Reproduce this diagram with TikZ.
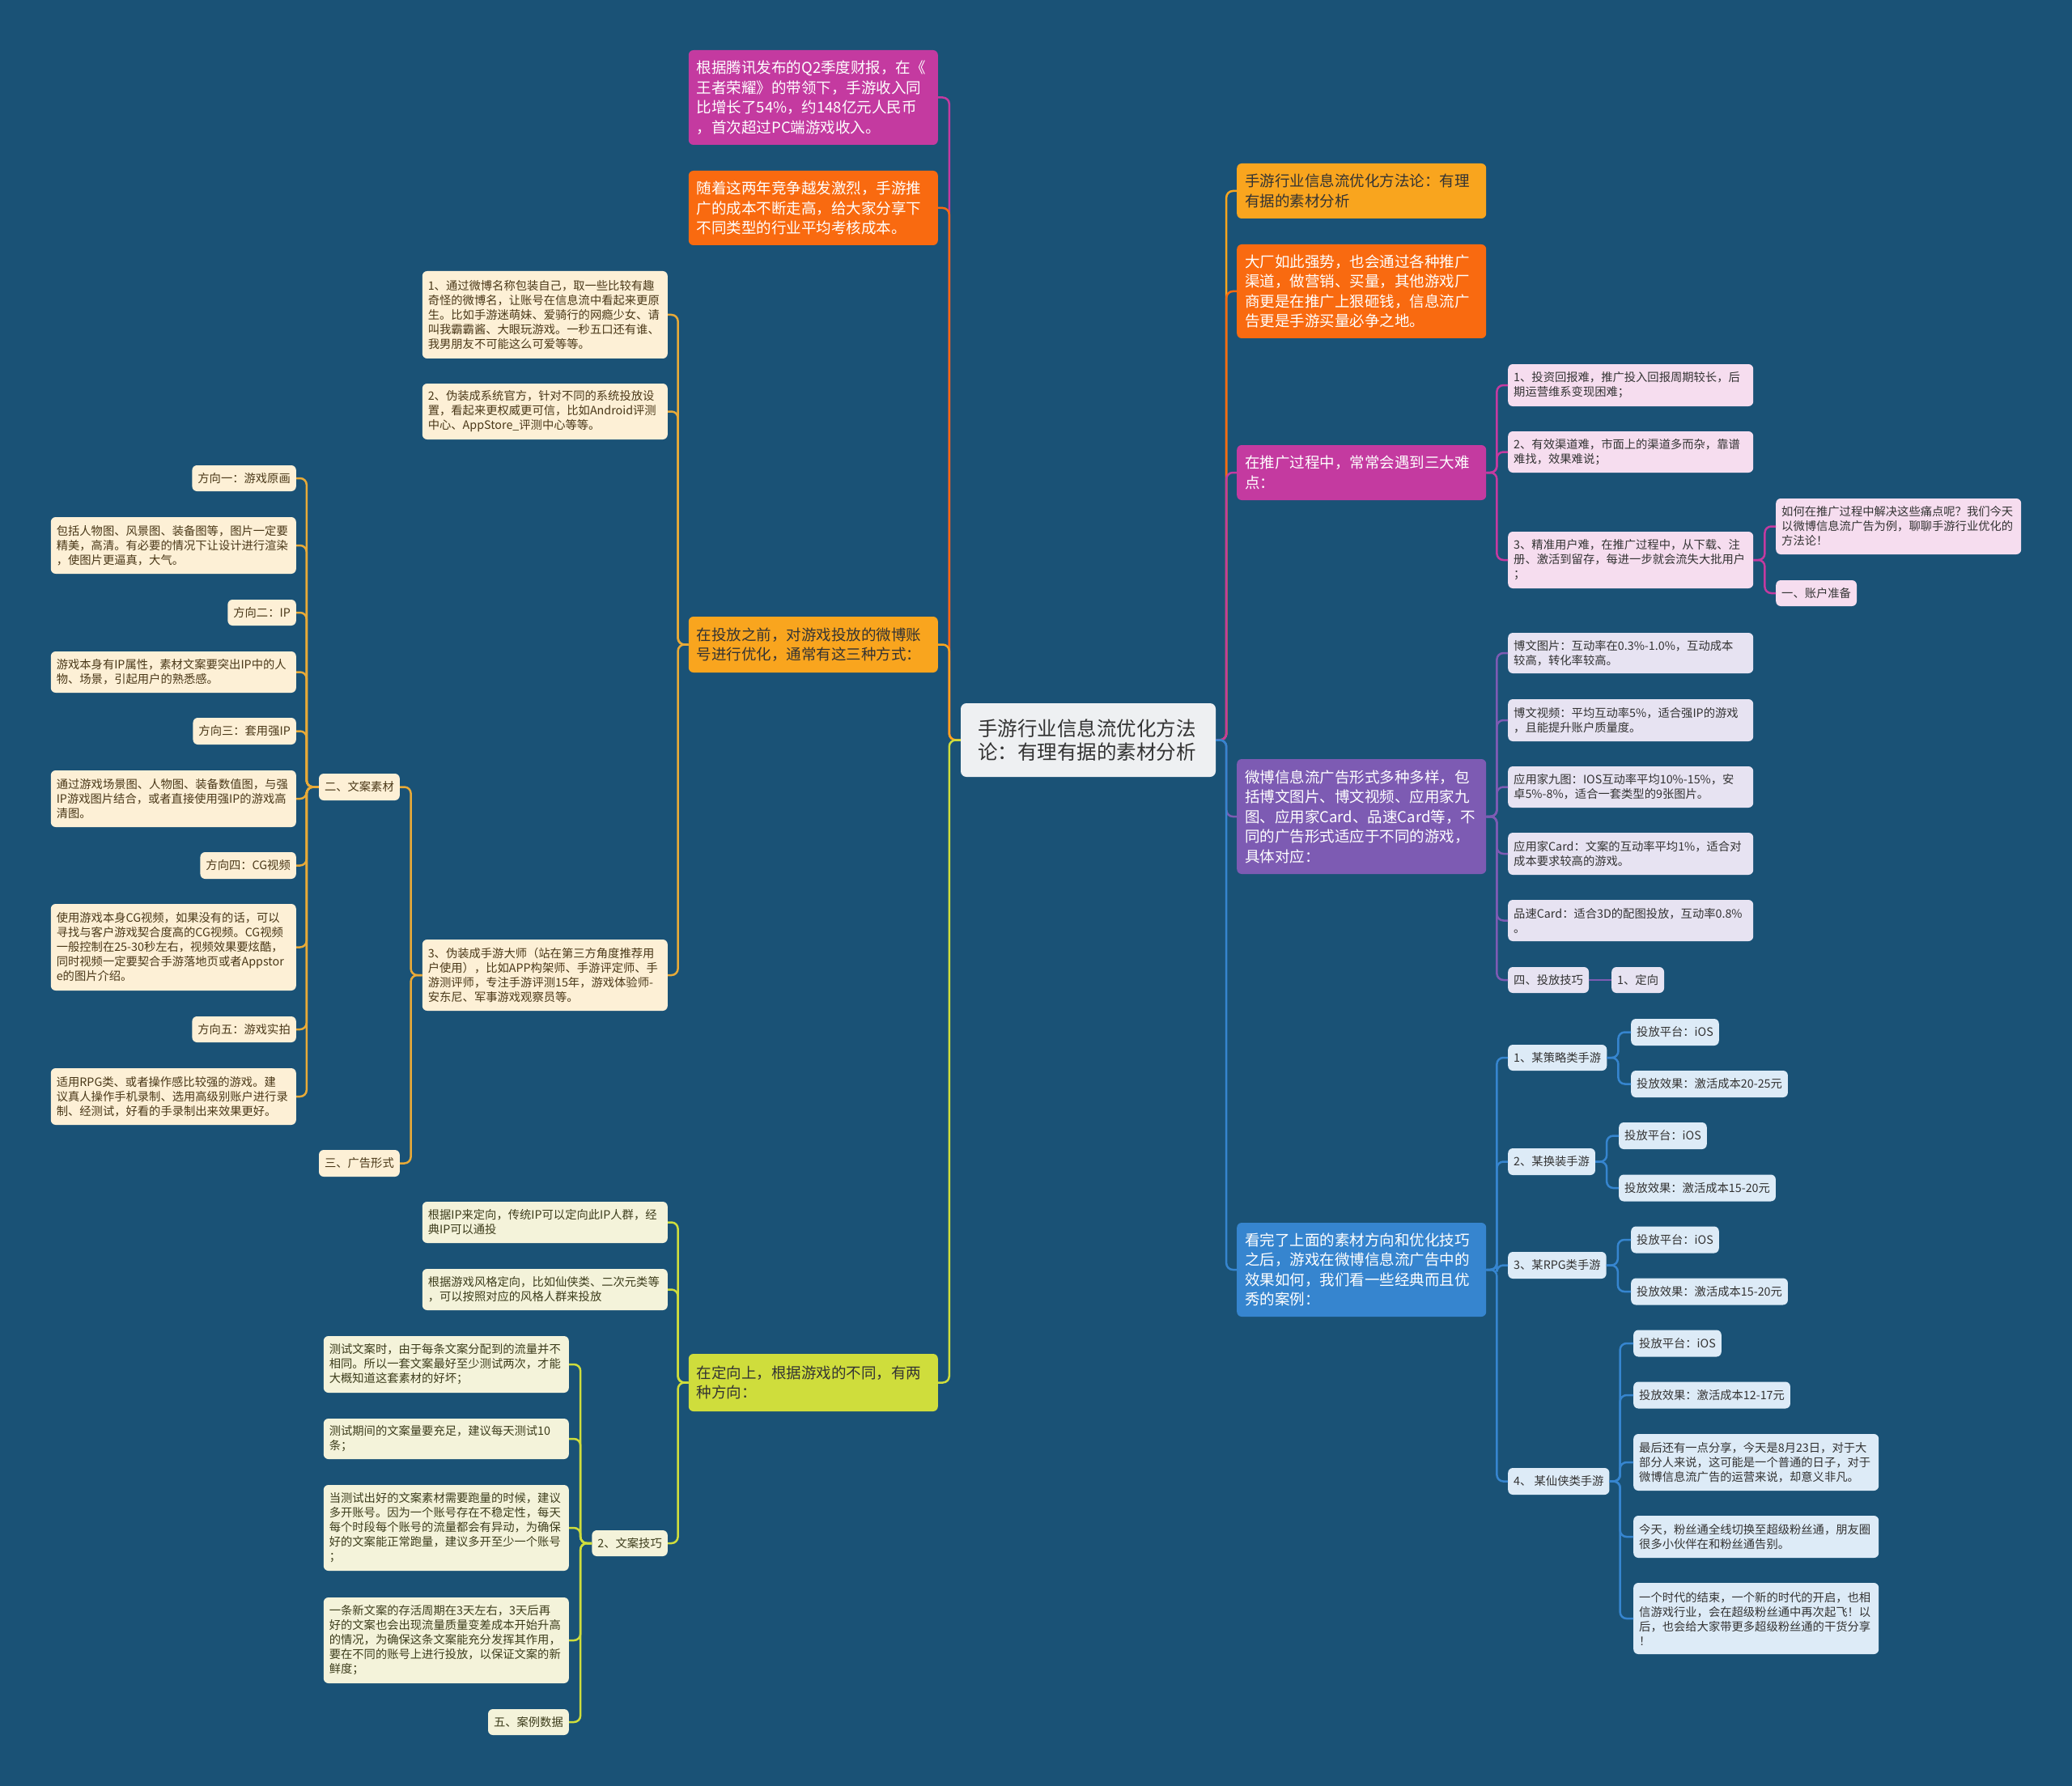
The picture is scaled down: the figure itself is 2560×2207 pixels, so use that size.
\documentclass[tikz,border=0pt]{standalone}
\usepackage{fontspec}
\setmainfont{Noto Sans CJK SC}
\usetikzlibrary{positioning}
\definecolor{MapBg}{HTML}{1A5276}
\definecolor{MapText}{HTML}{333333}
\definecolor{MapPink}{HTML}{C43AA0}
\definecolor{MapOrange}{HTML}{F96A10}
\definecolor{MapAmber}{HTML}{F9A51E}
\definecolor{MapLime}{HTML}{CFDD3C}
\definecolor{MapPurple}{HTML}{7D5BB3}
\definecolor{MapBlue}{HTML}{3685CF}
\definecolor{MapGold}{HTML}{E8AA38}
\definecolor{CreamFill}{HTML}{FDF0D6}
\definecolor{CreamText}{HTML}{4A3818}
\definecolor{PaleFill}{HTML}{F4F3DA}
\definecolor{PaleText}{HTML}{3D3D1C}
\definecolor{PinkFill}{HTML}{F6DDEF}
\definecolor{LilacFill}{HTML}{E7E3F2}
\definecolor{SkyFill}{HTML}{DDEBF7}
\definecolor{RootFill}{HTML}{EEF0F2}
\tikzset{
    % Box styles
    rootbox/.style={
        rectangle,
        rounded corners=7pt,
        fill=RootFill,
        text=MapText,
        align=left,
        inner xsep=21pt,
        text width=273pt,
        minimum height=91pt,
        font=\fontsize{24.5}{28.5}\selectfont
    },
    mainbox/.style={
        rectangle,
        rounded corners=6pt,
        align=left,
        inner xsep=10pt,
        text width=288pt,
        font=\fontsize{18.5}{24.5}\selectfont
    },
    pinkmain/.style={mainbox, fill=MapPink, text=white},
    orangemain/.style={mainbox, fill=MapOrange, text=white},
    ambermain/.style={mainbox, fill=MapAmber, text=MapText},
    limemain/.style={mainbox, fill=MapLime, text=MapText},
    purplemain/.style={mainbox, fill=MapPurple, text=white},
    bluemain/.style={mainbox, fill=MapBlue, text=white},
    leafbox/.style={
        rectangle,
        rounded corners=6pt,
        align=left,
        inner xsep=7pt,
        minimum height=33pt,
        font=\fontsize{14.3}{18}\selectfont
    },
    wide/.style={text width=289pt},
    creamleaf/.style={leafbox, fill=CreamFill, text=CreamText},
    paleleaf/.style={leafbox, fill=PaleFill, text=PaleText},
    pinkleaf/.style={leafbox, fill=PinkFill, text=MapText},
    lilacleaf/.style={leafbox, fill=LilacFill, text=MapText},
    skyleaf/.style={leafbox, fill=SkyFill, text=MapText},
    % Connector styles
    branch/.style={line width=2.5pt, rounded corners=8pt},
    pinkline/.style={branch, draw=MapPink},
    orangeline/.style={branch, draw=MapOrange},
    amberline/.style={branch, draw=MapAmber},
    goldline/.style={branch, draw=MapGold},
    limeline/.style={branch, draw=MapLime},
    purpleline/.style={branch, draw=MapPurple},
    blueline/.style={branch, draw=MapBlue}
}

\begin{document}
\begin{tikzpicture}[x=1pt, y=-1pt]
    \fill[MapBg] (0,0) rectangle (2560,2207);
    \useasboundingbox (0,0) rectangle (2560,2207);

    % Root
    \node[rootbox] (root) at (1344.5,914.5) {手游行业信息流优化方法\\论：有理有据的素材分析};

    % Left main branches
    \node[pinkmain, anchor=east, minimum height=117pt] (lpink) at (1159,120.5) {根据腾讯发布的Q2季度财报，在《\\王者荣耀》的带领下，手游收入同\\比增长了54\%，约148亿元人民币\\，首次超过PC端游戏收入。};
    \node[orangemain, anchor=east, minimum height=92pt] (lorange) at (1159,257) {随着这两年竞争越发激烈，手游推\\广的成本不断走高，给大家分享下\\不同类型的行业平均考核成本。};
    \node[ambermain, anchor=east, minimum height=69pt] (lamber) at (1159,796.5) {在投放之前，对游戏投放的微博账\\号进行优化，通常有这三种方式：};
    \node[limemain, anchor=east, minimum height=71pt] (llime) at (1159,1708.5) {在定向上，根据游戏的不同，有两\\种方向：};

    % Right main branches
    \node[ambermain, anchor=west, minimum height=68pt] (ramber) at (1528,236) {手游行业信息流优化方法论：有理\\有据的素材分析};
    \node[orangemain, anchor=west, minimum height=116pt] (rorange) at (1528,360) {大厂如此强势，也会通过各种推广\\渠道，做营销、买量，其他游戏厂\\商更是在推广上狠砸钱，信息流广\\告更是手游买量必争之地。};
    \node[pinkmain, anchor=west, minimum height=68pt] (rpink) at (1528,584) {在推广过程中，常常会遇到三大难\\点：};
    \node[purplemain, anchor=west, minimum height=142pt] (rpurple) at (1528,1009) {微博信息流广告形式多种多样，包\\括博文图片、博文视频、应用家九\\图、应用家Card、品速Card等，不\\同的广告形式适应于不同的游戏，\\具体对应：};
    \node[bluemain, anchor=west, minimum height=116pt] (rblue) at (1528,1569) {看完了上面的素材方向和优化技巧\\之后，游戏在微博信息流广告中的\\效果如何，我们看一些经典而且优\\秀的案例：};

    % Account tips (left, amber)
    \node[creamleaf, wide, anchor=east, minimum height=108pt] (acc1) at (825,389) {1、通过微博名称包装自己，取一些比较有趣\\奇怪的微博名，让账号在信息流中看起来更原\\生。比如手游迷萌妹、爱骑行的网瘾少女、请\\叫我霸霸酱、大眼玩游戏。一秒五口还有谁、\\我男朋友不可能这么可爱等等。};
    \node[creamleaf, wide, anchor=east, minimum height=69pt] (acc2) at (825,508.5) {2、伪装成系统官方，针对不同的系统投放设\\置，看起来更权威更可信，比如Android评测\\中心、AppStore\_评测中心等等。};
    \node[creamleaf, wide, anchor=east, minimum height=88pt] (acc3) at (825,1205) {3、伪装成手游大师（站在第三方角度推荐用\\户使用），比如APP构架师、手游评定师、手\\游测评师，专注手游评测15年，游戏体验师-\\安东尼、军事游戏观察员等。};
    \node[creamleaf, anchor=east] (copy) at (494,972.5) {二、文案素材};
    \node[creamleaf, anchor=east] (adform) at (494,1437.5) {三、广告形式};

    % Copy material directions
    \node[creamleaf, anchor=east, minimum height=32pt] (dir1) at (366,591) {方向一：游戏原画};
    \node[creamleaf, wide, anchor=east, minimum height=70pt] (dir1t) at (366,674) {包括人物图、风景图、装备图等，图片一定要\\精美，高清。有必要的情况下让设计进行渲染\\，使图片更逼真，大气。};
    \node[creamleaf, anchor=east, minimum height=32pt] (dir2) at (366,757) {方向二：IP};
    \node[creamleaf, wide, anchor=east, minimum height=51pt] (dir2t) at (366,830.5) {游戏本身有IP属性，素材文案要突出IP中的人\\物、场景，引起用户的熟悉感。};
    \node[creamleaf, anchor=east] (dir3) at (366,903.5) {方向三：套用强IP};
    \node[creamleaf, wide, anchor=east, minimum height=70pt] (dir3t) at (366,987) {通过游戏场景图、人物图、装备数值图，与强\\IP游戏图片结合，或者直接使用强IP的游戏高\\清图。};
    \node[creamleaf, anchor=east] (dir4) at (366,1069.5) {方向四：CG视频};
    \node[creamleaf, wide, anchor=east, minimum height=107pt] (dir4t) at (366,1170.5) {使用游戏本身CG视频，如果没有的话，可以\\寻找与客户游戏契合度高的CG视频。CG视频\\一般控制在25-30秒左右，视频效果要炫酷，\\同时视频一定要契合手游落地页或者Appstor\\e的图片介绍。};
    \node[creamleaf, anchor=east, minimum height=32pt] (dir5) at (366,1272) {方向五：游戏实拍};
    \node[creamleaf, wide, anchor=east, minimum height=70pt] (dir5t) at (366,1355) {适用RPG类、或者操作感比较强的游戏。建\\议真人操作手机录制、选用高级别账户进行录\\制、经测试，好看的手录制出来效果更好。};

    % Targeting (left, lime)
    \node[paleleaf, wide, anchor=east, minimum height=51pt] (tgt1) at (825,1510.5) {根据IP来定向，传统IP可以定向此IP人群，经\\典IP可以通投};
    \node[paleleaf, wide, anchor=east, minimum height=51pt] (tgt2) at (825,1593.5) {根据游戏风格定向，比如仙侠类、二次元类等\\，可以按照对应的风格人群来投放};
    \node[paleleaf, anchor=east, minimum height=32pt] (skill) at (825,1907) {2、文案技巧};
    \node[paleleaf, wide, anchor=east, minimum height=70pt] (skill1) at (703,1686) {测试文案时，由于每条文案分配到的流量并不\\相同。所以一套文案最好至少测试两次，才能\\大概知道这套素材的好坏；};
    \node[paleleaf, wide, anchor=east, minimum height=50pt] (skill2) at (703,1778) {测试期间的文案量要充足，建议每天测试10\\条；};
    \node[paleleaf, wide, anchor=east, minimum height=106pt] (skill3) at (703,1888) {当测试出好的文案素材需要跑量的时候，建议\\多开账号。因为一个账号存在不稳定性，每天\\每个时段每个账号的流量都会有异动，为确保\\好的文案能正常跑量，建议多开至少一个账号\\；};
    \node[paleleaf, wide, anchor=east, minimum height=106pt] (skill4) at (703,2027) {一条新文案的存活周期在3天左右，3天后再\\好的文案也会出现流量质量变差成本开始升高\\的情况，为确保这条文案能充分发挥其作用，\\要在不同的账号上进行投放，以保证文案的新\\鲜度；};
    \node[paleleaf, anchor=east, minimum height=32pt] (cases) at (703,2128) {五、案例数据};

    % Difficulties (right, pink)
    \node[pinkleaf, wide, anchor=west, minimum height=52pt] (diff1) at (1863,476) {1、投资回报难，推广投入回报周期较长，后\\期运营维系变现困难；};
    \node[pinkleaf, wide, anchor=west, minimum height=51pt] (diff2) at (1863,558.5) {2、有效渠道难，市面上的渠道多而杂，靠谱\\难找，效果难说；};
    \node[pinkleaf, wide, anchor=west, minimum height=70pt] (diff3) at (1863,692) {3、精准用户难，在推广过程中，从下载、注\\册、激活到留存，每进一步就会流失大批用户\\；};
    \node[pinkleaf, wide, anchor=west, minimum height=69pt] (howto) at (2194,650.5) {如何在推广过程中解决这些痛点呢？我们今天\\以微博信息流广告为例，聊聊手游行业优化的\\方法论！};
    \node[pinkleaf, anchor=west, minimum height=32pt] (account) at (2194,733) {一、账户准备};

    % Ad forms (right, purple)
    \node[lilacleaf, wide, anchor=west, minimum height=50pt] (form1) at (1863,807) {博文图片：互动率在0.3\%-1.0\%，互动成本\\较高，转化率较高。};
    \node[lilacleaf, wide, anchor=west, minimum height=52pt] (form2) at (1863,890) {博文视频：平均互动率5\%，适合强IP的游戏\\，且能提升账户质量度。};
    \node[lilacleaf, wide, anchor=west, minimum height=51pt] (form3) at (1863,972.5) {应用家九图：IOS互动率平均10\%-15\%，安\\卓5\%-8\%，适合一套类型的9张图片。};
    \node[lilacleaf, wide, anchor=west, minimum height=52pt] (form4) at (1863,1055) {应用家Card：文案的互动率平均1\%，适合对\\成本要求较高的游戏。};
    \node[lilacleaf, wide, anchor=west, minimum height=51pt] (form5) at (1863,1137.5) {品速Card：适合3D的配图投放，互动率0.8\%\\。};
    \node[lilacleaf, anchor=west, minimum height=32pt] (tips) at (1863,1211) {四、投放技巧};
    \node[lilacleaf, anchor=west, minimum height=32pt] (target) at (1991,1211) {1、定向};

    % Cases (right, blue)
    \node[skyleaf, anchor=west, minimum height=32pt] (case1) at (1863,1307) {1、某策略类手游};
    \node[skyleaf, anchor=west] (case1a) at (2015,1275.5) {投放平台：iOS};
    \node[skyleaf, anchor=west] (case1b) at (2015,1339.5) {投放效果：激活成本20-25元};
    \node[skyleaf, anchor=west] (case2) at (1863,1435.5) {2、某换装手游};
    \node[skyleaf, anchor=west] (case2a) at (2000,1403.5) {投放平台：iOS};
    \node[skyleaf, anchor=west] (case2b) at (2000,1468) {投放效果：激活成本15-20元};
    \node[skyleaf, anchor=west] (case3) at (1863,1563.5) {3、某RPG类手游};
    \node[skyleaf, anchor=west] (case3a) at (2015,1532) {投放平台：iOS};
    \node[skyleaf, anchor=west] (case3b) at (2015,1596) {投放效果：激活成本15-20元};
    \node[skyleaf, anchor=west] (case4) at (1863,1830.5) {4、 某仙侠类手游};
    \node[skyleaf, anchor=west] (case4a) at (2018,1660) {投放平台：iOS};
    \node[skyleaf, anchor=west] (case4b) at (2018,1724) {投放效果：激活成本12-17元};
    \node[skyleaf, wide, anchor=west, minimum height=70pt] (case4c) at (2018,1807) {最后还有一点分享，今天是8月23日，对于大\\部分人来说，这可能是一个普通的日子，对于\\微博信息流广告的运营来说，却意义非凡。};
    \node[skyleaf, wide, anchor=west, minimum height=52pt] (case4d) at (2018,1899) {今天，粉丝通全线切换至超级粉丝通，朋友圈\\很多小伙伴在和粉丝通告别。};
    \node[skyleaf, wide, anchor=west, minimum height=88pt] (case4e) at (2018,2000) {一个时代的结束，一个新的时代的开启，也相\\信游戏行业，会在超级粉丝通中再次起飞！以\\后，也会给大家带更多超级粉丝通的干货分享\\！};

    % Connectors, root to main branches
    \draw[pinkline] (root.west) -- ++(-14,0) |- (lpink.east);
    \draw[orangeline] (root.west) -- ++(-14,0) |- (lorange.east);
    \draw[amberline] (root.west) -- ++(-14,0) |- (lamber.east);
    \draw[limeline] (root.west) -- ++(-14,0) |- (llime.east);
    \draw[amberline] (root.east) -- ++(13,0) |- (ramber.west);
    \draw[orangeline] (root.east) -- ++(13,0) |- (rorange.west);
    \draw[pinkline] (root.east) -- ++(13,0) |- (rpink.west);
    \draw[purpleline] (root.east) -- ++(13,0) |- (rpurple.west);
    \draw[blueline] (root.east) -- ++(13,0) |- (rblue.west);

    % Connectors, left side
    \foreach \c in {acc1,acc2,acc3}
        \draw[goldline] (lamber.west) -- ++(-13,0) |- (\c.east);
    \foreach \c in {copy,adform}
        \draw[goldline] (acc3.west) -- ++(-14,0) |- (\c.east);
    \foreach \c in {dir1,dir1t,dir2,dir2t,dir3,dir3t,dir4,dir4t,dir5,dir5t}
        \draw[goldline] (copy.west) -- ++(-15,0) |- (\c.east);
    \foreach \c in {tgt1,tgt2,skill}
        \draw[limeline] (llime.west) -- ++(-13,0) |- (\c.east);
    \foreach \c in {skill1,skill2,skill3,skill4,cases}
        \draw[limeline] (skill.west) -- ++(-14,0) |- (\c.east);

    % Connectors, right side
    \foreach \c in {diff1,diff2,diff3}
        \draw[pinkline] (rpink.east) -- ++(13,0) |- (\c.west);
    \foreach \c in {howto,account}
        \draw[pinkline] (diff3.east) -- ++(14,0) |- (\c.west);
    \foreach \c in {form1,form2,form3,form4,form5,tips}
        \draw[purpleline] (rpurple.east) -- ++(13,0) |- (\c.west);
    \draw[purpleline] (tips.east) -- (target.west);
    \foreach \c in {case1,case2,case3,case4}
        \draw[blueline] (rblue.east) -- ++(13,0) |- (\c.west);
    \foreach \c in {case1a,case1b}
        \draw[blueline] (case1.east) -- ++(14,0) |- (\c.west);
    \foreach \c in {case2a,case2b}
        \draw[blueline] (case2.east) -- ++(14,0) |- (\c.west);
    \foreach \c in {case3a,case3b}
        \draw[blueline] (case3.east) -- ++(14,0) |- (\c.west);
    \foreach \c in {case4a,case4b,case4c,case4d,case4e}
        \draw[blueline] (case4.east) -- ++(13,0) |- (\c.west);
\end{tikzpicture}
\end{document}
